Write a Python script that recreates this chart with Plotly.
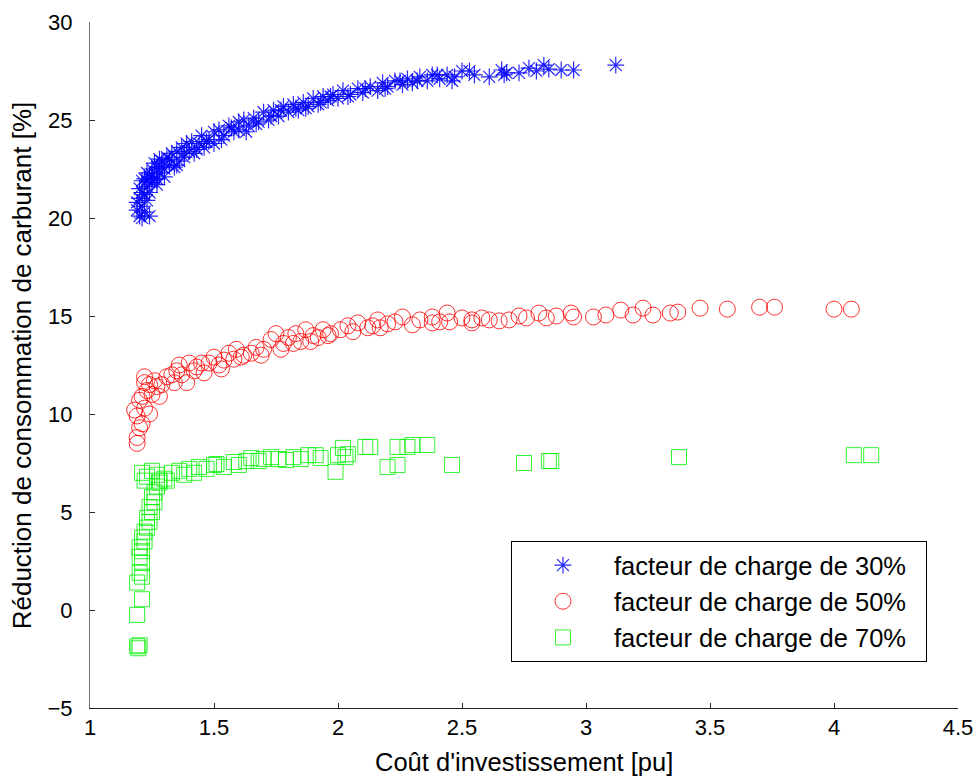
import plotly.graph_objects as go

# ---- data ----
x30 = [1.19, 1.19, 1.20, 1.20, 1.21, 1.21, 1.22, 1.22, 1.23, 1.23, 1.24, 1.24, 1.20, 1.21,
       1.22, 1.23, 1.24, 1.25, 1.25, 1.26, 1.26, 1.27, 1.27, 1.28, 1.28, 1.29, 1.30, 1.30,
       1.31, 1.32, 1.33, 1.34, 1.35, 1.36, 1.37, 1.38, 1.39, 1.40, 1.41, 1.42, 1.44, 1.45,
       1.46, 1.48, 1.50, 1.50, 1.52, 1.54, 1.56, 1.58, 1.60, 1.60, 1.62, 1.64, 1.66, 1.68,
       1.70, 1.72, 1.74, 1.76, 1.78, 1.80, 1.82, 1.84, 1.86, 1.88, 1.90, 1.92, 1.94, 1.96,
       1.98, 2.00, 2.02, 2.05, 2.08, 2.10, 2.13, 2.16, 2.18, 2.20, 2.23, 2.26, 2.28, 2.30,
       2.33, 2.36, 2.38, 2.41, 2.44, 2.47, 2.50, 2.53, 2.55, 2.61, 2.66, 2.67, 2.68, 2.73,
       2.77, 2.80, 2.83, 2.85, 2.90, 2.95, 3.12,
       1.21, 1.23, 1.25, 1.27, 1.29, 1.32, 1.35, 1.38, 1.43, 1.47, 1.53, 1.57, 1.63, 1.67,
       1.73, 1.77, 1.83, 1.87, 1.93, 1.97, 2.04, 2.11, 2.19, 2.25, 2.32, 2.40, 2.46]
y30 = [20.8, 20.4, 20.1, 21.0, 20.0, 20.6, 21.2, 20.3, 20.9, 21.6, 21.3, 20.1, 21.5, 21.9,
       22.0, 22.3, 22.1, 21.8, 22.5, 22.0, 22.8, 22.6, 21.7, 22.3, 23.0, 22.9, 22.5, 22.1,
       23.1, 22.7, 23.3, 22.6, 23.4, 22.9, 23.6, 23.1, 23.8, 23.4, 23.9, 23.3, 23.8, 24.2,
       23.6, 24.0, 24.4, 23.8, 24.5, 24.2, 24.7, 24.4, 24.9, 24.5, 25.0, 24.7, 25.1, 24.9,
       25.4, 25.0, 25.5, 25.2, 25.7, 25.4, 25.8, 25.5, 25.9, 25.7, 26.1, 25.8, 26.2, 26.0,
       26.3, 26.1, 26.5, 26.3, 26.6, 26.4, 26.7, 26.5, 26.9, 26.7, 27.0, 26.8, 27.1, 26.9,
       27.2, 27.0, 27.3, 27.1, 27.3, 27.2, 27.5, 27.5, 27.3, 27.2, 27.55, 27.3, 27.4, 27.4,
       27.65, 27.5, 27.8, 27.6, 27.55, 27.55, 27.8,
       21.3, 21.9, 22.2, 22.0, 22.6, 23.0, 22.7, 23.3, 23.5, 23.9, 24.0, 24.6, 24.4, 24.8,
       25.2, 25.5, 25.6, 25.6, 25.9, 26.2, 26.2, 26.6, 26.6, 27.0, 27.0, 27.3, 27.0]

x50 = [1.19, 1.19, 1.20, 1.18, 1.19, 1.21, 1.20, 1.22, 1.24, 1.21, 1.23, 1.25, 1.22, 1.26,
       1.27, 1.28, 1.31, 1.34, 1.35, 1.36, 1.39, 1.40, 1.43, 1.46, 1.48, 1.50, 1.52, 1.54,
       1.56, 1.58, 1.59, 1.62, 1.65, 1.67, 1.70, 1.73, 1.75, 1.78, 1.80, 1.83, 1.85, 1.87,
       1.90, 1.92, 1.94, 1.97, 2.01, 2.04, 2.08, 2.12, 2.16, 2.17, 2.20, 2.23, 2.26, 2.30,
       2.33, 2.38, 2.38, 2.41, 2.44, 2.45, 2.50, 2.54, 2.54, 2.58, 2.61, 2.65, 2.69, 2.73,
       2.76, 2.81, 2.84, 2.88, 2.94, 2.95, 3.03, 3.08, 3.14, 3.19, 3.23, 3.27, 3.34, 3.37,
       3.46, 3.57, 3.70, 3.76, 4.00, 4.07,
       1.22, 1.24, 1.29, 1.33, 1.37, 1.42, 1.45, 1.53, 1.61, 1.69, 1.77, 1.82, 1.89, 1.96,
       2.06, 2.14]
y50 = [8.5, 8.8, 9.3, 10.2, 9.9, 9.5, 10.7, 10.3, 10.0, 10.9, 11.2, 11.0, 11.6, 11.7,
       11.4, 10.9, 11.9, 11.6, 12.2, 12.5, 11.6, 12.6, 12.4, 12.1, 12.6, 12.9, 12.5, 12.75,
       13.1, 12.8, 13.3, 13.0, 13.1, 13.4, 13.3, 13.8, 14.1, 13.6, 13.9, 14.1, 13.7, 14.3,
       14.0, 13.9, 14.3, 14.1, 14.3, 14.5, 14.65, 14.4, 14.8, 14.4, 14.6, 14.7, 14.95, 14.55,
       14.8, 14.95, 14.65, 14.7, 15.15, 14.7, 14.9, 14.8, 14.65, 14.9, 14.8, 14.75, 14.8, 15.0,
       14.9, 15.15, 14.9, 15.0, 15.15, 14.95, 14.95, 15.05, 15.3, 15.05, 15.4, 15.05, 15.15, 15.2,
       15.4, 15.35, 15.45, 15.45, 15.35, 15.35,
       11.9, 11.5, 11.5, 12.0, 12.0, 12.2, 12.6, 12.3, 12.9, 13.0, 13.3, 13.6, 13.7, 14.0,
       14.2, 14.5]

x70 = [1.19, 1.195, 1.20, 1.19, 1.21, 1.19, 1.20, 1.21, 1.20, 1.21, 1.20, 1.21, 1.22, 1.21,
       1.23, 1.22, 1.23, 1.24, 1.24, 1.25, 1.25, 1.26, 1.27, 1.26, 1.28, 1.21, 1.22, 1.25,
       1.23, 1.27, 1.28, 1.30, 1.31, 1.33, 1.36, 1.38, 1.40, 1.42, 1.44, 1.47, 1.50, 1.51,
       1.54, 1.58, 1.60, 1.63, 1.65, 1.68, 1.70, 1.73, 1.76, 1.79, 1.82, 1.85, 1.88, 1.91,
       1.93, 1.99, 2.00, 2.02, 2.03, 2.04, 2.11, 2.13, 2.20, 2.24, 2.24, 2.28, 2.30, 2.36,
       2.46, 2.75, 2.85, 2.86, 3.375, 4.08, 4.15]
y70 = [-1.85, -1.95, -1.8, -0.25, 0.55, 1.4, 1.9, 1.7, 2.7, 2.4, 3.2, 3.0, 3.5, 3.7,
       4.2, 4.0, 4.7, 4.5, 5.25, 5.0, 5.75, 5.5, 6.3, 6.0, 6.5, 7.0, 6.6, 7.1,
       6.8, 6.9, 6.6, 6.7, 6.6, 7.0, 7.1, 6.9, 7.2, 7.0, 7.3, 7.2, 7.4, 7.45,
       7.3, 7.55, 7.4, 7.6, 7.75, 7.6, 7.7, 7.8, 7.7, 7.65, 7.8, 7.7, 7.9, 7.9,
       7.75, 7.05, 7.9, 8.27, 7.8, 7.95, 8.32, 8.32, 7.3, 7.4, 8.32, 8.32, 8.42, 8.42,
       7.4, 7.5, 7.6, 7.6, 7.8, 7.9, 7.9]

names = ["facteur de charge de 30%", "facteur de charge de 50%", "facteur de charge de 70%"]
xticks = [1, 1.5, 2, 2.5, 3, 3.5, 4, 4.5]
xticklabels = ["1", "1.5", "2", "2.5", "3", "3.5", "4", "4.5"]
yticks = [-5, 0, 5, 10, 15, 20, 25, 30]
xtitle = "Coût d'investissement [pu]"
ytitle = "Réduction de consommation de carburant [%]"

FONT = "Liberation Sans, Arial, sans-serif"
PAD = "\u00a0\u00a0"

fig = go.Figure()
fig.add_trace(go.Scatter(x=x30, y=y30, mode="markers", name=names[0] + PAD, legendgroup="a",
                         marker=dict(symbol="asterisk-open", size=14, color="rgba(0,0,255,0.85)",
                                     line=dict(color="rgba(0,0,255,0.85)", width=1.2))))
fig.add_trace(go.Scatter(x=x50, y=y50, mode="markers", name=names[1] + PAD, legendgroup="b",
                         marker=dict(symbol="circle-open", size=16, color="rgba(255,0,0,0.8)",
                                     line=dict(color="rgba(255,0,0,0.8)", width=1))))
fig.add_trace(go.Scatter(x=x70, y=y70, mode="markers", name=names[2] + PAD, legendgroup="c",
                         marker=dict(symbol="square-open", size=15, color="rgba(0,240,0,0.8)",
                                     line=dict(color="rgba(0,240,0,0.8)", width=1))))

fig.update_layout(
    width=978, height=776,
    margin=dict(l=90, r=20, t=22, b=68, autoexpand=False),
    paper_bgcolor="white", plot_bgcolor="white",
    font=dict(family=FONT, size=22, color="black"),
    showlegend=True,
    legend=dict(x=0.485, y=0.2434, xanchor="left", yanchor="top",
                bordercolor="black", borderwidth=1, bgcolor="white",
                font=dict(family=FONT, size=25.5), itemwidth=92, tracegroupgap=4,
                traceorder="normal"),
    xaxis=dict(range=[1, 4.5], tickvals=xticks, ticktext=xticklabels, automargin=False,
               showgrid=False, zeroline=False, showline=True, linecolor="#262626", linewidth=1,
               ticks="inside", ticklen=5, tickcolor="#262626", mirror=False,
               tickfont=dict(size=22)),
    yaxis=dict(range=[-5, 30], tickvals=yticks, automargin=False,
               showgrid=False, zeroline=False, showline=True, linecolor="#707070", linewidth=1,
               ticks="inside", ticklen=5, tickcolor="#262626", mirror=False,
               tickfont=dict(size=22), ticklabelstandoff=12),
    annotations=[
        dict(text=xtitle, xref="paper", yref="paper", x=0.5, y=-0.079, xanchor="center",
             yanchor="middle", showarrow=False, font=dict(family=FONT, size=25.5)),
        dict(text=ytitle, xref="paper", yref="paper", x=-0.078, y=0.5, xanchor="center",
             yanchor="middle", showarrow=False, textangle=-90, font=dict(family=FONT, size=26)),
    ],
)

fig.write_html("out.html", config={"displayModeBar": False},
               post_script="document.body.style.margin='0px';")
